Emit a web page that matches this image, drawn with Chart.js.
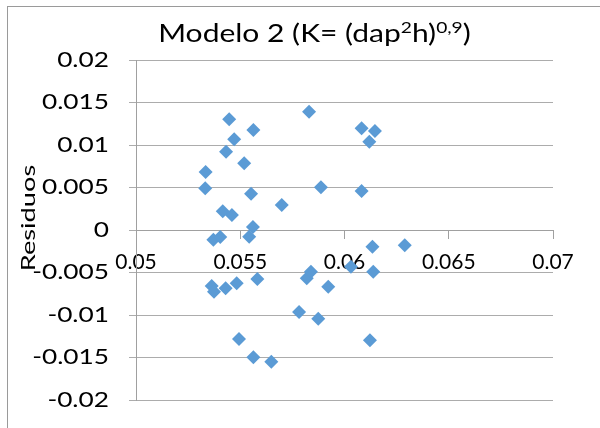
<!DOCTYPE html>
<html><head><meta charset="utf-8">
<script src="https://cdn.jsdelivr.net/npm/chart.js@4/dist/chart.umd.min.js"></script>
<style>html,body{margin:0;padding:0;background:#fff}canvas{display:block}</style>
</head><body>
<canvas id="c" width="600" height="428"></canvas>
<script>
// ---- data ----
const dap = [
  0.0583, 0.05447, 0.05563, 0.06082, 0.06146, 0.05471, 0.06119, 0.05432, 0.05519, 0.05334,
  0.05332, 0.05887, 0.06082, 0.05552, 0.05699, 0.05416, 0.0546, 0.05561, 0.05543, 0.05371,
  0.05404, 0.06134, 0.06289, 0.05363, 0.05374, 0.0543, 0.05483, 0.05582, 0.05819, 0.05839,
  0.06031, 0.06138, 0.05922, 0.05782, 0.05874, 0.06122, 0.05494, 0.05563, 0.05649
];
const residuos = [
  0.01392, 0.01302, 0.01176, 0.01196, 0.01165, 0.01067, 0.01039, 0.00921, 0.00785, 0.00682,
  0.00491, 0.00502, 0.00459, 0.00427, 0.00294, 0.0022, 0.00176, 0.00035, -0.00079, -0.00114,
  -0.00082, -0.00196, -0.0018, -0.00659, -0.00726, -0.00686, -0.00627, -0.00576, -0.00568, -0.00491,
  -0.00432, -0.00491, -0.00667, -0.00965, -0.01044, -0.01298, -0.01282, -0.01498, -0.01549
];
const xTickValues = [0.05, 0.055, 0.06, 0.065, 0.07];
const xTickLabels = ['0.05', '0.055', '0.06', '0.065', '0.07'];
const yTickValues = [-0.02, -0.015, -0.01, -0.005, 0, 0.005, 0.01, 0.015, 0.02];
const yTickLabels = ['-0.02', '-0.015', '-0.01', '-0.005', '0', '0.005', '0.01', '0.015', '0.02'];
const titleParts = [['Modelo 2 (K= (dap', false], ['2', true], ['h)', false], ['0,9', true], [')', false]];
const yAxisTitle = 'Residuos';

// ---- rendering ----
const SX_Y = 1.25;  // horizontal text stretch of y labels, as in the reference picture
const SX_X = 1.0;   // x labels
const SX_T = 1.2;   // title
const xLabelSet = new Set(xTickLabels);
const canvas = document.getElementById('c');
const ctx = canvas.getContext('2d');
const origFillText = ctx.fillText.bind(ctx);
ctx.fillText = function (t, x, y, mw) {
  const s = this.__sx || (xLabelSet.has(String(t)) ? SX_X : SX_Y);
  this.save();
  this.translate(x, y);
  this.scale(s, 1);
  if (mw !== undefined) origFillText(t, 0, 0, mw / s); else origFillText(t, 0, 0);
  this.restore();
};

const FONT = 'Lato';
const frame = {
  id: 'frame',
  beforeDraw(chart) {
    const c = chart.ctx;
    c.save();
    c.fillStyle = '#fff';
    c.fillRect(0, 0, chart.width, chart.height);
    c.strokeStyle = '#9a9a9a';
    c.lineWidth = 1;
    c.strokeRect(7.5, 6.5, 800, 800);
    c.restore();
  }
};
const titlePlugin = {
  id: 'modelTitle',
  afterDraw(chart) {
    const c = chart.ctx;
    c.save();
    c.__sx = SX_T;
    c.fillStyle = '#000';
    c.textBaseline = 'alphabetic';
    c.textAlign = 'left';
    const mainFont = '25px ' + FONT, supFont = '16px ' + FONT;
    let total = 0;
    const widths = titleParts.map(([t, sup]) => {
      c.font = sup ? supFont : mainFont;
      const w = c.measureText(t).width * SX_T;
      total += w;
      return w;
    });
    let x = 314.5 - total / 2;
    titleParts.forEach(([t, sup], i) => {
      c.font = sup ? supFont : mainFont;
      c.fillText(t, x, sup ? 33 : 42);
      x += widths[i];
    });
    // y axis title
    c.__sx = 1.36;
    c.font = '20px ' + FONT;
    c.textAlign = 'center';
    c.textBaseline = 'middle';
    c.translate(29, 218);
    c.rotate(-Math.PI / 2);
    c.fillText(yAxisTitle, 0, 0);
    c.__sx = 0;
    c.restore();
  }
};

new Chart(ctx, {
  type: 'scatter',
  data: {
    datasets: [{
      data: dap.map((x, i) => ({ x, y: residuos[i] })),
      pointStyle: 'rectRot',
      pointRadius: 7,
      pointHoverRadius: 7,
      backgroundColor: '#5B9BD5',
      borderColor: '#5B9BD5',
      borderWidth: 0
    }]
  },
  options: {
    responsive: false,
    animation: false,
    devicePixelRatio: 1,
    events: [],
    layout: { padding: { left: 0, right: 47, top: 60, bottom: 28 } },
    plugins: { legend: { display: false }, tooltip: { enabled: false }, title: { display: false } },
    scales: {
      x: {
        type: 'linear',
        position: { y: 0 },
        min: 0.05, max: 0.07,
        afterBuildTicks: s => { s.ticks = xTickValues.map(v => ({ value: v })); },
        afterFit: s => { s.height = 0; s.paddingLeft = 0; s.paddingRight = 0; },
        ticks: {
          autoSkip: false, maxRotation: 0, minRotation: 0, padding: 12,
          color: '#000', font: { family: FONT, size: 21 },
          callback: (v, i) => xTickLabels[i]
        },
        grid: { drawOnChartArea: false, drawTicks: true, tickLength: 8, color: '#a0a0a0' },
        border: { display: true, color: '#a0a0a0', width: 1 }
      },
      y: {
        type: 'linear',
        min: -0.02, max: 0.02,
        afterBuildTicks: s => { s.ticks = yTickValues.map(v => ({ value: v })); },
        afterFit: s => { s.width = 136; s.paddingTop = 0; s.paddingBottom = 0; },
        ticks: {
          autoSkip: false, padding: 20,
          color: '#000', font: { family: FONT, size: 21 },
          callback: (v, i) => yTickLabels[i]
        },
        grid: { color: '#acacac', tickLength: 7, lineWidth: 1 },
        border: { display: true, color: '#a0a0a0', width: 1 },
        title: { display: false }
      }
    }
  },
  plugins: [frame, titlePlugin]
});
</script>
</body></html>
